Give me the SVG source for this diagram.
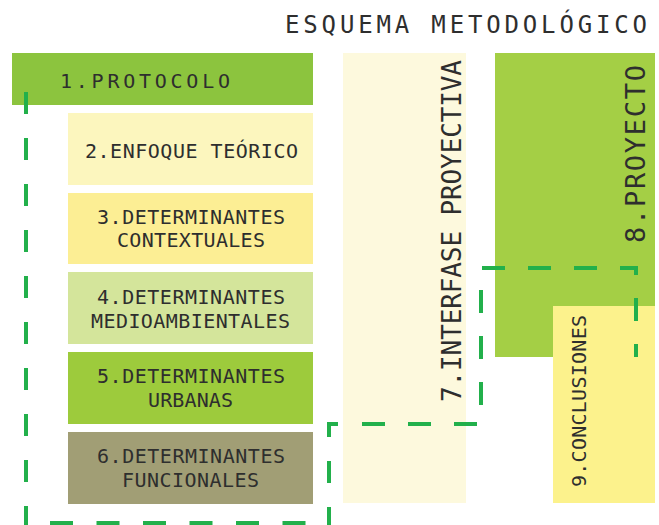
<svg xmlns="http://www.w3.org/2000/svg" width="659" height="525" viewBox="0 0 659 525">
<style>
  .t { font-family: "DejaVu Sans Mono", "Liberation Mono", monospace; fill: #2e2e2e; font-size: 20px; }
  .dash { fill: none; stroke: #22b04b; stroke-width: 4; stroke-dasharray: 23 23; }
</style>
<rect width="659" height="525" fill="#ffffff"/>
<text class="t" x="285" y="33" style="font-size:24px" textLength="362" lengthAdjust="spacing">ESQUEMA METODOLÓGICO</text>

<g id="n1"><rect x="12" y="53" width="301" height="52" fill="#8cc43e"/>
<text class="t" x="60" y="88" textLength="170" lengthAdjust="spacing">1.PROTOCOLO</text></g>
<g id="n2"><rect x="68" y="113" width="245" height="72" fill="#fcf6be"/>
<text class="t" x="85" y="158" textLength="213" lengthAdjust="spacing">2.ENFOQUE TEÓRICO</text></g>
<g id="n3"><rect x="68" y="193" width="245" height="71" fill="#fcee94"/>
<text class="t" x="97" y="224" textLength="188" lengthAdjust="spacing">3.DETERMINANTES</text>
<text class="t" x="117" y="247" textLength="148" lengthAdjust="spacing">CONTEXTUALES</text></g>
<g id="n4"><rect x="68" y="272" width="245" height="72" fill="#d4e59b"/>
<text class="t" x="97" y="304" textLength="188" lengthAdjust="spacing">4.DETERMINANTES</text>
<text class="t" x="91" y="328" textLength="199" lengthAdjust="spacing">MEDIOAMBIENTALES</text></g>
<g id="n5"><rect x="68" y="352" width="245" height="72" fill="#9dcb3c"/>
<text class="t" x="97" y="383" textLength="188" lengthAdjust="spacing">5.DETERMINANTES</text>
<text class="t" x="148" y="407" textLength="85" lengthAdjust="spacing">URBANAS</text></g>
<g id="n6"><rect x="68" y="432" width="245" height="72" fill="#a19e75"/>
<text class="t" x="97" y="463" textLength="188" lengthAdjust="spacing">6.DETERMINANTES</text>
<text class="t" x="122" y="487" textLength="137" lengthAdjust="spacing">FUNCIONALES</text></g>
<g id="n7"><rect x="343" y="53" width="123" height="450" fill="#fdf9dd"/>
<text class="t" transform="translate(461,402) rotate(-90)" x="0" y="0" style="font-size:26px" textLength="342" lengthAdjust="spacing">7.INTERFASE PROYECTIVA</text></g>
<g id="n8"><rect x="495" y="53" width="160" height="304" fill="#a4cf45"/>
<text class="t" transform="translate(645,243) rotate(-90)" x="0" y="0" style="font-size:27px" textLength="178" lengthAdjust="spacing">8.PROYECTO</text></g>
<g id="n9"><rect x="553" y="306" width="102" height="197" fill="#fcf28c"/>
<text class="t" transform="translate(586,487) rotate(-90)" x="0" y="0" textLength="172" lengthAdjust="spacing">9.CONCLUSIONES</text></g>

<g id="connectors">
  <path class="dash" d="M26,92 V525" style="stroke-dasharray:22 24"/>
  <path class="dash" d="M50,523 H329" style="stroke-dasharray:23 23.5"/>
  <path class="dash" d="M338,424 H329 V525" style="stroke-dasharray:22 24"/>
  <path class="dash" d="M362,424 H481 V268 H636 V357"/>
</g>
</svg>
